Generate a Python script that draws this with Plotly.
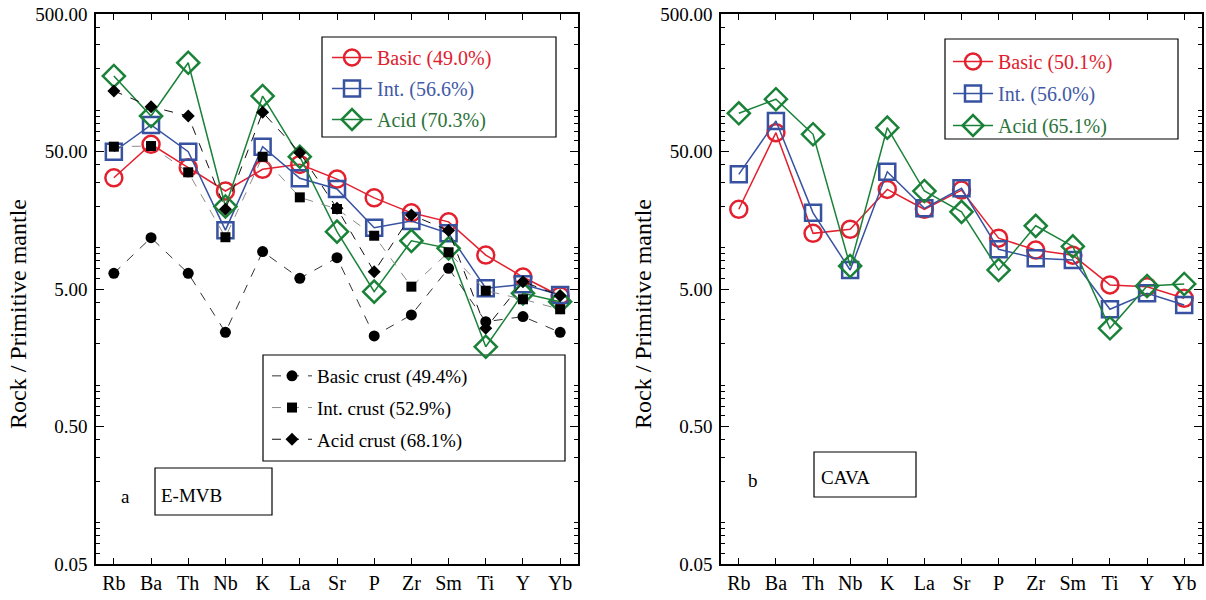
import plotly.graph_objects as go

elements = ["Rb", "Ba", "Th", "Nb", "K", "La", "Sr", "P", "Zr", "Sm", "Ti", "Y", "Yb"]

# Panel a: E-MVB
a_basic = [32.2, 56.4, 38.1, 25.8, 37.1, 40.3, 31.5, 23.0, 17.9, 15.4, 8.83, 6.11, 4.45]
a_int = [49.8, 78.0, 49.8, 13.4, 54.2, 31.9, 26.7, 13.96, 15.6, 12.7, 5.06, 5.41, 4.52]
a_acid = [177, 90.6, 221, 19.9, 126.6, 45.8, 13.06, 4.78, 11.2, 9.88, 1.90, 4.65, 4.04]
crust_basic = [6.5, 11.8, 6.5, 2.42, 9.35, 5.98, 8.45, 2.28, 3.24, 7.07, 2.89, 3.15, 2.42]
crust_int = [54.2, 54.8, 35.3, 11.9, 45.8, 23.2, 19.1, 12.2, 5.2, 9.25, 4.86, 4.21, 3.56]
crust_acid = [138, 105.9, 90.6, 19.0, 96.4, 49.0, 19.3, 6.68, 17.3, 13.3, 2.59, 5.65, 4.47]

# Panel b: CAVA
b_basic = [19.0, 68.5, 12.7, 13.6, 26.5, 19.0, 26.2, 11.7, 9.6, 8.8, 5.35, 5.2, 4.28]
b_int = [34.1, 83.3, 17.9, 6.87, 35.6, 19.3, 27.0, 9.72, 8.36, 8.13, 3.56, 4.65, 3.83]
b_acid = [94.8, 120, 66.7, 7.35, 74.5, 25.8, 18.2, 6.87, 14.4, 10.2, 2.59, 5.26, 5.44]

names_a = ["Basic (49.0%)", "Int. (56.6%)", "Acid (70.3%)"]
names_b = ["Basic (50.1%)", "Int. (56.0%)", "Acid (65.1%)"]
names_crust = ["Basic crust (49.4%)", "Int. crust (52.9%)", "Acid crust (68.1%)"]

y_tickvals = [0.05, 0.5, 5, 50, 500]
y_ticktext = ["0.05", "0.50", "5.00", "50.00", "500.00"]

W, H = 1206, 600
RED = "#E3202E"
BLUE = "#3752A0"
GREEN = "#1A8238"
TXT_RED = "#E0202E"
TXT_BLUE = "#4259A6"
TXT_GREEN = "#2C7339"
FONT = "Liberation Serif"

styles = [
    dict(color=RED, txt=TXT_RED, symbol="circle-open", size=17),
    dict(color=BLUE, txt=TXT_BLUE, symbol="square-open", size=16),
    dict(color=GREEN, txt=TXT_GREEN, symbol="diamond-open", size=17),
]
crust_styles = [
    dict(symbol="circle", size=11, line="#333333"),
    dict(symbol="square", size=10, line="#8a8a8a"),
    dict(symbol="diamond", size=10, line="#111111"),
]

fig = go.Figure()

def main_traces(series, names, xa, ya, legend):
    for i, (vals, nm) in enumerate(zip(series, names)):
        st = styles[i]
        fig.add_trace(go.Scatter(
            x=elements, y=vals, xaxis=xa, yaxis=ya, mode="lines+markers",
            name=f'<span style="color:{st["txt"]}">{nm}</span>',
            legend=legend, legendgroup=f"{legend}{i}",
            line=dict(color=st["color"], width=1.5),
            marker=dict(symbol=st["symbol"], size=st["size"], color=st["color"],
                        line=dict(width=2.5, color=st["color"])),
        ))

main_traces([a_basic, a_int, a_acid], names_a, "x", "y", "legend")
for i, (vals, nm) in enumerate(zip([crust_basic, crust_int, crust_acid], names_crust)):
    st = crust_styles[i]
    fig.add_trace(go.Scatter(
        x=elements, y=vals, xaxis="x", yaxis="y", mode="lines+markers",
        name=nm, legend="legend2", legendgroup=f"c{i}",
        line=dict(color=st["line"], width=1, dash="9px,9px"),
        marker=dict(symbol=st["symbol"], size=st["size"], color="black"),
    ))
main_traces([b_basic, b_int, b_acid], names_b, "x2", "y2", "legend3")

minor_vals = [m * 10 ** e for e in range(-2, 3) for m in range(1, 10)]
minor_vals = [v for v in minor_vals if 0.05 <= v <= 500]

yax = dict(
    type="log", range=[-1.30103, 2.69897], tickmode="array",
    tickvals=y_tickvals, ticktext=y_ticktext, ticks="inside", ticklen=8,
    tickwidth=1.3, tickcolor="black", showline=True, linecolor="black",
    linewidth=1.5, mirror="allticks", showgrid=False, zeroline=False,
    tickfont=dict(family=FONT, size=19, color="black"), ticklabelstandoff=3,
    minor=dict(tickmode="array", tickvals=minor_vals, ticks="inside",
               ticklen=4, tickwidth=1, tickcolor="black", showgrid=False),
    domain=[36 / H, 1 - 14 / H], automargin=False,
)
xax = dict(
    type="category", range=[-0.48, 12.48], ticks="inside", ticklen=6,
    tickwidth=1.3, tickcolor="black", showline=True, linecolor="black",
    linewidth=1.5, mirror="allticks", showgrid=False, zeroline=False,
    tickfont=dict(family=FONT, size=20, color="black"), ticklabelstandoff=0,
    automargin=False,
)

legend_common = dict(bgcolor="rgba(0,0,0,0)", borderwidth=0,
                     font=dict(family=FONT, size=20, color="black"),
                     xanchor="left", yanchor="top", tracegroupgap=2,
                     itemwidth=40, traceorder="grouped")

fig.update_layout(
    width=W, height=H,
    margin=dict(l=0, r=0, t=0, b=0, autoexpand=False),
    plot_bgcolor="white", paper_bgcolor="white", showlegend=True,
    xaxis=dict(xax, domain=[96 / W, 578 / W], anchor="y"),
    yaxis=dict(yax, anchor="x"),
    xaxis2=dict(xax, domain=[721 / W, 1202 / W], anchor="y2"),
    yaxis2=dict(yax, anchor="x2"),
    legend=dict(legend_common, x=327 / W, y=1 - 38 / H),
    legend2=dict(legend_common, x=267 / W, y=1 - 357 / H, tracegroupgap=4,
                 font=dict(family=FONT, size=19, color="black")),
    legend3=dict(legend_common, x=948 / W, y=1 - 42 / H, tracegroupgap=3),
    font=dict(family=FONT, size=19, color="black"),
)

# legend frames and label boxes (pixel rectangles in paper space)
boxes = [(322, 37, 556, 137), (263, 355, 565, 461), (945, 39, 1178, 139),
         (155, 468, 272, 515), (814, 452, 916, 497)]
for x0, y0, x1, y1 in boxes:
    fig.add_shape(type="rect", xref="paper", yref="paper",
                  x0=x0 / W, x1=x1 / W, y0=1 - y0 / H, y1=1 - y1 / H,
                  line=dict(color="black", width=1.2), layer="below")

ann_font = dict(family=FONT, size=19, color="black")
for xc in (18, 643):
    fig.add_annotation(text="Rock / Primitive mantle", xref="paper", yref="paper",
                       x=xc / W, y=1 - 314 / H, textangle=-90, showarrow=False,
                       font=dict(family=FONT, size=24, color="black"),
                       xanchor="center", yanchor="middle")
fig.add_annotation(text="a", xref="paper", yref="paper", x=125 / W, y=1 - 496 / H,
                   xanchor="center", yanchor="middle", showarrow=False, font=ann_font)
fig.add_annotation(text="b", xref="paper", yref="paper", x=753 / W, y=1 - 480 / H,
                   xanchor="center", yanchor="middle", showarrow=False, font=ann_font)
fig.add_annotation(text="E-MVB", xref="paper", yref="paper", x=159 / W, y=1 - 495 / H,
                   xanchor="left", yanchor="middle", showarrow=False, font=ann_font)
fig.add_annotation(text="CAVA", xref="paper", yref="paper", x=819 / W, y=1 - 477 / H,
                   xanchor="left", yanchor="middle", showarrow=False, font=ann_font)

fig.write_html("out.html")
